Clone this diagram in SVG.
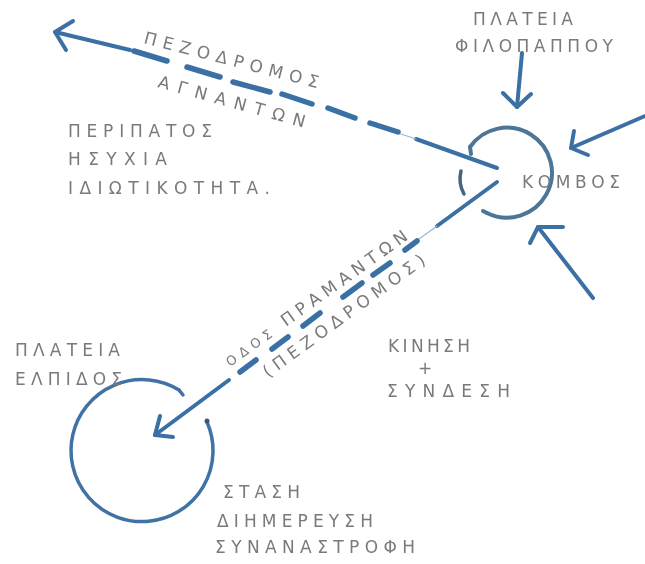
<svg xmlns="http://www.w3.org/2000/svg" width="645" height="564" viewBox="0 0 645 564">
  <defs>
    <style>
      .lbl { font-family: "DejaVu Sans", "Liberation Sans", sans-serif; font-size: 17px; fill: #7a7a7a; }
      .sm { font-size: 13px; }
      .ink { fill: none; stroke: #3a6fa5; stroke-linecap: round; stroke-linejoin: round; }
      .solid { stroke-width: 4; }
      .dash { stroke-width: 5.5; }
      .faint { stroke: #9bb6d0; stroke-width: 1.2; }
      .ring { stroke: #4d7596; stroke-width: 4; }
    </style>
    <filter id="pencil" x="-5%" y="-5%" width="110%" height="110%">
      <feGaussianBlur stdDeviation="0.6"/>
    </filter>
    <filter id="graphite" x="-5%" y="-20%" width="110%" height="140%">
      <feGaussianBlur stdDeviation="0.35"/>
    </filter>
  </defs>
  <rect width="645" height="564" fill="#ffffff"/>

  <!-- connectors -->
  <g id="connectors" class="ink" filter="url(#pencil)">
    <!-- pedestrian way of views, towards the north-west -->
    <g id="edge-agnanton">
      <path class="solid" d="M497,168 L416,139"/>
      <path class="faint" d="M416,139 L398,133"/>
      <path class="dash" d="M398,132 L370,123"/>
      <path class="dash" d="M355,118 L328,108"/>
      <path class="dash" d="M312,104 L282,94"/>
      <path class="dash" d="M270,92 L233,82"/>
      <path class="dash" d="M220,77 L187,67"/>
      <path class="dash" d="M167,61 L134,51"/>
      <path class="solid" d="M130,50 L55,32"/>
      <path class="solid" d="M73,21 L55,32 L66,50"/>
    </g>
    <!-- street to the lower square -->
    <g id="edge-pramanton">
      <path class="solid" d="M497,182 L437,226"/>
      <path class="faint" d="M437,226 L419,239"/>
      <path class="dash" d="M417,241 L405,250"/>
      <path class="dash" d="M390,263 L373,275"/>
      <path class="dash" d="M362,283 L343,297"/>
      <path class="dash" d="M320,313 L303,326"/>
      <path class="dash" d="M288,337 L272,349"/>
      <path class="dash" d="M256,360 L240,372"/>
      <path class="solid" d="M229,380 L155,435"/>
      <path class="solid" d="M160,416 L155,435 L173,437"/>
    </g>
    <!-- arrivals at the junction -->
    <g id="edge-north">
      <path class="solid" d="M522,53 L517,107"/>
      <path class="solid" d="M503,93 L517,107 L531,94"/>
    </g>
    <g id="edge-east">
      <path class="solid" d="M645,116 L571,148"/>
      <path class="solid" d="M574,131 L571,148 L588,155"/>
    </g>
    <g id="edge-south">
      <path class="solid" d="M593,298 L538,227"/>
      <path class="solid" d="M530,243 L538,227 L563,227"/>
    </g>
  </g>

  <g filter="url(#graphite)">
  <!-- junction node -->
  <g id="node-kombos">
    <g class="ink" filter="url(#pencil)">
      <path class="ring" d="M470,147 A45,45 0 1 1 487,213"/>
      <path class="ring" d="M470,147 L471,154"/>
      <path class="ring" d="M487,213 L483,211"/>
      <path stroke="#45657f" stroke-width="3.5" d="M461,171 Q458,183 464,194"/>
    </g>
    <text class="lbl" x="522" y="188" textLength="98" lengthAdjust="spacing">ΚΟΜΒΟΣ</text>
  </g>

  <!-- upper square label -->
  <g id="node-filopappou">
    <text class="lbl" x="473" y="25" textLength="100" lengthAdjust="spacing">ΠΛΑΤΕΙΑ</text>
    <text class="lbl" x="455" y="52" textLength="158" lengthAdjust="spacing">ΦΙΛΟΠΑΠΠΟΥ</text>
  </g>

  <!-- lower square node -->
  <g id="node-elpidos">
    <g class="ink" filter="url(#pencil)">
      <path stroke="#3f72a6" stroke-width="3.5" d="M179,390 A71,71 0 1 0 207,422"/>
      <path stroke="#3f72a6" stroke-width="3.5" d="M179,390 L183,395"/>
      <circle cx="207" cy="421" r="2.5" fill="#34597c" stroke="none"/>
    </g>
    <text class="lbl" x="15" y="356" textLength="105" lengthAdjust="spacing">ΠΛΑΤΕΙΑ</text>
    <text class="lbl" x="15" y="385" textLength="107" lengthAdjust="spacing">ΕΛΠΙΔΟΣ</text>
    <text class="lbl" x="223" y="498" textLength="77" lengthAdjust="spacing">ΣΤΑΣΗ</text>
    <text class="lbl" x="217" y="527" textLength="156" lengthAdjust="spacing">ΔΙΗΜΕΡΕΥΣΗ</text>
    <text class="lbl" x="215" y="553" textLength="200" lengthAdjust="spacing">ΣΥΝΑΝΑΣΤΡΟΦΗ</text>
  </g>

  <!-- route labels -->
  <g id="label-agnanton">
    <text class="lbl" transform="translate(143,43) rotate(14.5)" textLength="180" lengthAdjust="spacing">ΠΕΖΟΔΡΟΜΟΣ</text>
    <text class="lbl" transform="translate(157,87) rotate(15.5)" textLength="152" lengthAdjust="spacing">ΑΓΝΑΝΤΩΝ</text>
  </g>
  <g id="label-pramanton">
    <text class="lbl" transform="translate(230,367) rotate(-35.6)" textLength="220" lengthAdjust="spacing"><tspan class="sm">ΟΔΟΣ</tspan>  ΠΡΑΜΑΝΤΩΝ</text>
    <text class="lbl" transform="translate(268,378) rotate(-36)" textLength="196" lengthAdjust="spacing">(ΠΕΖΟΔΡΟΜΟΣ)</text>
  </g>

  <!-- area notes -->
  <g id="note-peripatos">
    <text class="lbl" x="68" y="137" textLength="144" lengthAdjust="spacing">ΠΕΡΙΠΑΤΟΣ</text>
    <text class="lbl" x="68" y="165" textLength="99" lengthAdjust="spacing">ΗΣΥΧΙΑ</text>
    <text class="lbl" x="68" y="194" textLength="202" lengthAdjust="spacing">ΙΔΙΩΤΙΚΟΤΗΤΑ.</text>
  </g>
  <g id="note-kinisi">
    <text class="lbl" x="388" y="352" textLength="82" lengthAdjust="spacing">ΚΙΝΗΣΗ</text>
    <text class="lbl" x="425" y="374" text-anchor="middle">+</text>
    <text class="lbl" x="387" y="397" textLength="123" lengthAdjust="spacing">ΣΥΝΔΕΣΗ</text>
  </g>
  </g>
</svg>
